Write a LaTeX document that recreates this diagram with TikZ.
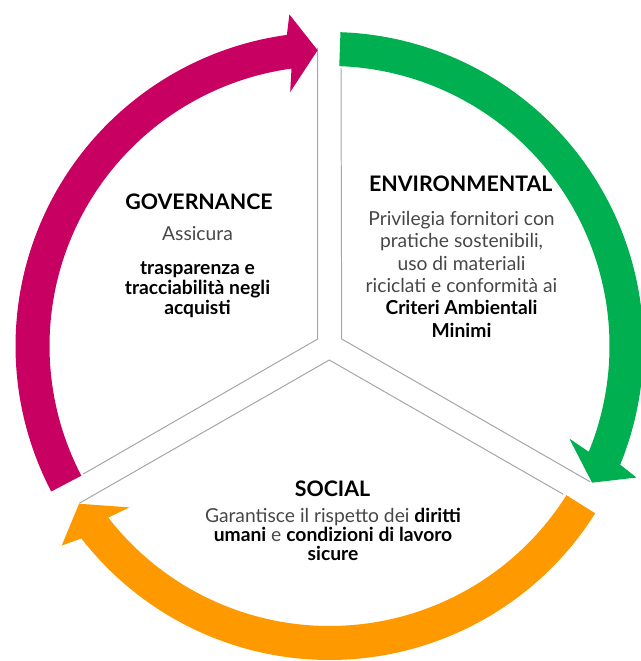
\documentclass[tikz,border=0pt]{standalone}
\usepackage{fontspec}
\setmainfont{Lato}
\definecolor{govred}{RGB}{200,0,98}
\definecolor{envgreen}{RGB}{0,176,80}
\definecolor{socorange}{RGB}{255,153,0}
\definecolor{linegray}{RGB}{165,165,165}
\newcommand{\keyword}[1]{\textbf{\color{black}#1}}
% colour, tail, head base, outer corner, inner corner, tip
\newcommand{\bandarrow}[6]{%
  \fill[#1] (#2:314) arc[start angle=#2,end angle=#3,radius=314]
    -- (#4:334) -- (#6:296) -- (#5:257) -- (#3:280)
    arc[start angle=#3,end angle=#2,radius=280] -- cycle;}
\tikzset{
  sector/.style={draw=linegray,line width=0.7pt},
  title/.style={font=\fontsize{15.2}{17}\selectfont\bfseries,text=black},
  body/.style={font=\fontsize{13.7}{15}\selectfont,text=black!72,align=center},
}
\begin{document}
\begin{tikzpicture}[x=0.025cm,y=0.025cm]
\useasboundingbox (-329.5,-315) rectangle (310.5,346);

\coordinate (gv) at (-11.8,7);
\coordinate (gt) at (-12,298);
\coordinate (gl) at (-246.2,-128);

\coordinate (ev) at (12.2,7);
\coordinate (et) at (11.5,278);
\coordinate (el) at (260.5,-135.7);

\coordinate (sv) at (-0.2,-14);
\coordinate (sl) at (-250.2,-157.3);
\coordinate (sr) at (233.8,-148.3);

\draw[sector] (gl) -- (gv) -- (gt);
\draw[sector] (et) -- (ev) -- (el);
\draw[sector] (sl) -- (sv) -- (sr);

\bandarrow{govred}{207.6}{97.8}{96.9}{98.8}{92.3}
\bandarrow{envgreen}{88}{-22.2}{-23.2}{-21.1}{-27.5}
\bandarrow{socorange}{-32.2}{-142.2}{-143.3}{-141.1}{-147.8}

\node[title] (govtitle) at (-130.5,144.3) {GOVERNANCE};
\node[body] (govlead) at (-132,112) {Assicura};
\node[body,font=\fontsize{13.7}{14.2}\selectfont\bfseries,text=black] (govtext) at (-132,56)
  {trasparenza e\\tracciabilità negli\\acquisti};

\node[title] (envtitle) at (131.3,162.7) {ENVIRONMENTAL};
\node[body,font=\fontsize{13.7}{15.9}\selectfont] (envtext) at (132,71.8)
  {Privilegia fornitori con\\pratiche sostenibili,\\uso di materiali\\riciclati e conformità ai\\\keyword{Criteri Ambientali}\\\keyword{Minimi}};

\node[title] (soctitle) at (3,-142.3) {SOCIAL};
\node[body,font=\fontsize{13.7}{13.5}\selectfont] (soctext) at (3.5,-188.2)
  {Garantisce il rispetto dei \keyword{diritti}\\\keyword{umani} e \keyword{condizioni di lavoro}\\\keyword{sicure}};
\end{tikzpicture}
\end{document}
